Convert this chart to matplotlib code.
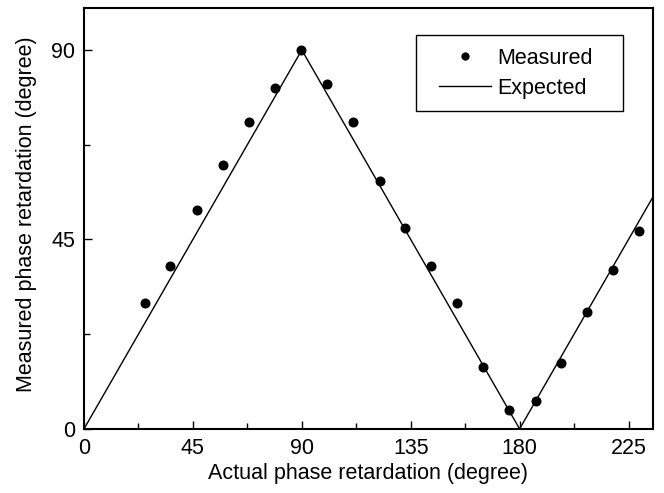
import matplotlib
matplotlib.use("Agg")
import matplotlib.pyplot as plt
from matplotlib.patches import Rectangle
from matplotlib.ticker import MultipleLocator

# measured points
actual_deg = [25.2, 35.6, 46.6, 57.4, 68.3, 79.0, 89.5, 100.4, 111.1, 122.2,
              132.8, 143.2, 154.2, 165.0, 175.8, 186.6, 197.2, 207.9, 218.7, 229.5]
measured_deg = [29.8, 38.7, 51.9, 62.8, 73.0, 81.0, 90.0, 82.0, 73.0, 59.0,
                47.8, 38.7, 29.8, 14.6, 4.6, 6.7, 15.7, 27.7, 37.7, 46.9]

# expected response: triangle wave
expected_x = [0, 90, 180, 235]
expected_y = [0, 90, 0, 55]

plt.rcParams["font.family"] = ["Liberation Sans", "DejaVu Sans"]
FS = 15.5

fig = plt.figure(figsize=(6.64, 4.93), dpi=100)
ax = fig.add_axes([0.1265, 0.130, 0.8565, 0.854])

ax.plot(actual_deg, measured_deg, "o", color="black", ms=6.2, label="Measured")
ax.plot(expected_x, expected_y, "-", color="black", lw=1.0, label="Expected")

ax.set_xlim(0, 235)
ax.set_ylim(0, 100)
ax.xaxis.set_major_locator(MultipleLocator(45))
ax.xaxis.set_minor_locator(MultipleLocator(22.5))
ax.yaxis.set_major_locator(MultipleLocator(45))
ax.yaxis.set_minor_locator(MultipleLocator(22.5))
ax.tick_params(which="both", direction="in", top=False, right=False,
               labelsize=FS, width=1.0, pad=6.5)
ax.tick_params(which="major", length=6)
ax.tick_params(which="minor", length=4)
for s in ax.spines.values():
    s.set_linewidth(1.5)

ax.set_xlabel("Actual phase retardation (degree)", fontsize=FS, labelpad=3)
ax.set_ylabel("Measured phase retardation (degree)", fontsize=FS)
ax.yaxis.set_label_coords(-0.083, 0.51)

# legend: drawn frameless, with a plain box behind it
ax.add_patch(Rectangle((0.5835, 0.755), 0.3635, 0.181, transform=ax.transAxes,
                       fill=False, edgecolor="black", lw=1.0, zorder=4))
ax.legend(loc="center left", bbox_to_anchor=(0.624, 0.845), fontsize=FS,
          frameon=False, borderpad=0, borderaxespad=0, handlelength=2.4,
          handletextpad=0.3, labelspacing=0.42, markerscale=0.8)

fig.savefig("out.png", dpi=100)
